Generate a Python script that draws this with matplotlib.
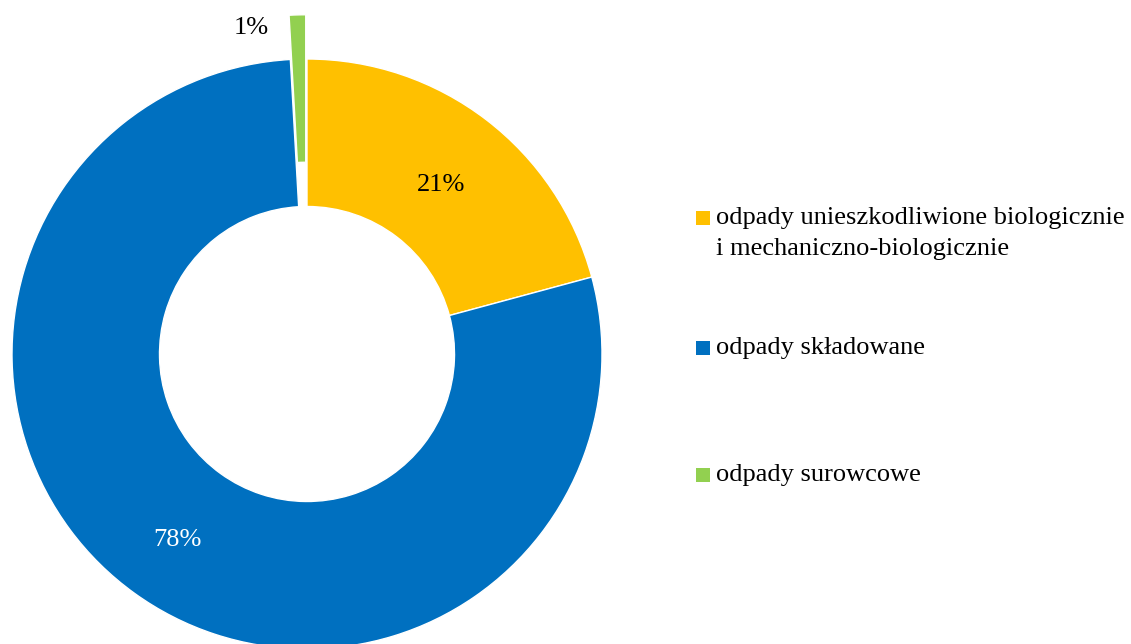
import matplotlib
matplotlib.use("Agg")
import matplotlib.pyplot as plt
from matplotlib.patches import Rectangle

plt.rcParams['font.family'] = ['Liberation Serif', 'DejaVu Serif']

categories = ["odpady unieszkodliwione biologicznie\ni mechaniczno-biologicznie",
              "odpady składowane",
              "odpady surowcowe"]
values = [20.8, 78.3, 0.9]
pct_labels = ["21%", "78%", "1%"]
colors = ["#FFC000", "#0070C0", "#92D050"]
explode = [0, 0, 0.15]

W, H = 1131, 644
fig = plt.figure(figsize=(W / 100, H / 100), dpi=100)

cx, cy, R = 307, 354, 295
lim = 1.2
half = lim * R
ax = fig.add_axes([(cx - half) / W, ((H - cy) - half) / H, 2 * half / W, 2 * half / H])

wedges, texts, autotexts = ax.pie(
    values, colors=colors, explode=explode, startangle=90, counterclock=False,
    radius=1.0, wedgeprops=dict(width=0.5, edgecolor='white', linewidth=1.0),
    autopct=lambda p: "", pctdistance=0.75)

ax.set_xlim(-lim, lim)
ax.set_ylim(-lim, lim)
ax.set_aspect('equal')
ax.axis('off')

for i, t in enumerate(autotexts):
    t.set_text(pct_labels[i])
    t.set_fontsize(19)
    t.set_color('white' if i == 1 else 'black')
    x, y = t.get_position()
    t.set_position((x, y - 0.022))
autotexts[2].set_position((-0.19, 1.105))
autotexts[2].set_ha('center')

# legend drawn manually
leg_y = [218, 348, 475]
for i, (lab, col) in enumerate(zip(categories, colors)):
    y = leg_y[i]
    fig.patches.append(Rectangle((696 / W, (H - y - 7) / H), 14 / W, 14 / H,
                                 transform=fig.transFigure, facecolor=col, edgecolor='none'))
    lines = lab.split("\n")
    for j, line in enumerate(lines):
        fig.text(716 / W, (H - y - 31 * j) / H, line, fontsize=19, va='center', ha='left')

fig.savefig("out.png", dpi=100, facecolor='white')
